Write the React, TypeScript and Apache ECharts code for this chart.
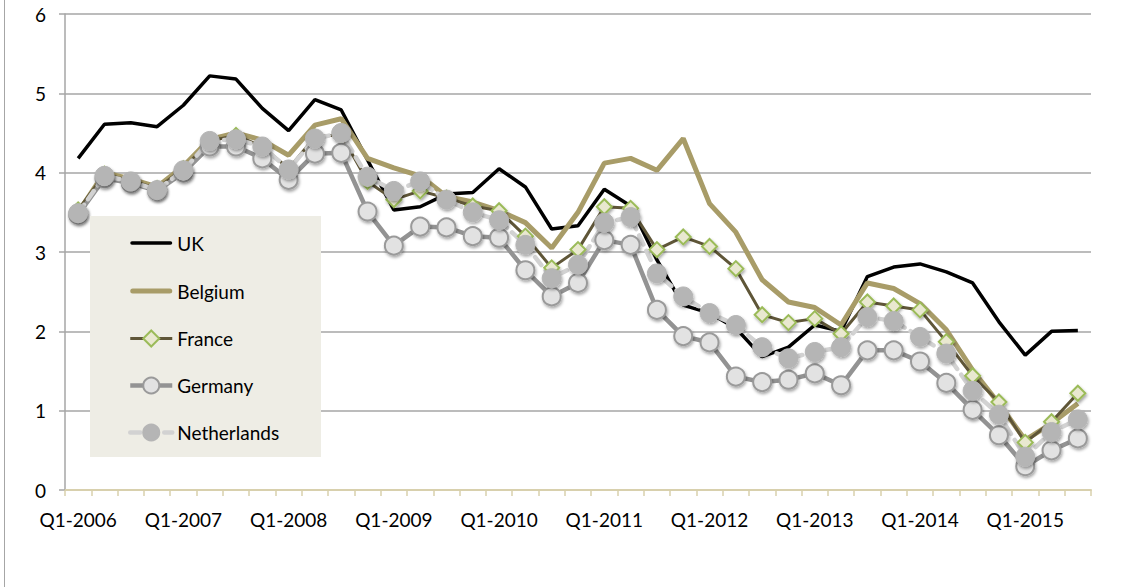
import React, { useEffect, useRef } from "react";
import * as echarts from "echarts";

const years = [2006, 2007, 2008, 2009, 2010, 2011, 2012, 2013, 2014, 2015];
const categories: string[] = [];
years.forEach((y) => {
  for (let q = 1; q <= 4; q++) {
    if (y === 2015 && q === 4) continue;
    categories.push(`Q${q}-${y}`);
  }
});

const uk = [4.18, 4.61, 4.63, 4.58, 4.85, 5.22, 5.18, 4.81, 4.53, 4.92, 4.79, 4.16, 3.53, 3.57, 3.73, 3.75, 4.05, 3.82, 3.29, 3.33, 3.79, 3.58, 2.9, 2.33, 2.23, 2.04, 1.68, 1.8, 2.08, 2.0, 2.69, 2.81, 2.85, 2.75, 2.61, 2.12, 1.7, 2.0, 2.01];
const belgium = [3.5, 4.0, 3.92, 3.82, 4.08, 4.42, 4.5, 4.41, 4.22, 4.6, 4.68, 4.18, 4.06, 3.96, 3.7, 3.63, 3.52, 3.37, 3.05, 3.5, 4.12, 4.18, 4.03, 4.43, 3.61, 3.25, 2.65, 2.37, 2.3, 2.08, 2.61, 2.54, 2.35, 2.02, 1.51, 1.09, 0.63, 0.84, 1.09];
const france = [3.53, 3.98, 3.9, 3.8, 4.05, 4.4, 4.47, 4.33, 4.05, 4.45, 4.48, 3.89, 3.66, 3.77, 3.68, 3.58, 3.52, 3.2, 2.8, 3.03, 3.57, 3.55, 3.03, 3.19, 3.07, 2.79, 2.21, 2.11, 2.16, 1.97, 2.37, 2.32, 2.27, 1.87, 1.44, 1.11, 0.6, 0.86, 1.22];
const germany = [3.47, 3.93, 3.87, 3.77, 4.0, 4.33, 4.33, 4.18, 3.91, 4.24, 4.25, 3.51, 3.08, 3.32, 3.31, 3.2, 3.18, 2.77, 2.44, 2.61, 3.15, 3.09, 2.27, 1.94, 1.86, 1.43, 1.36, 1.39, 1.47, 1.32, 1.76, 1.76, 1.62, 1.35, 1.01, 0.69, 0.3, 0.5, 0.65];
const netherlands = [3.49, 3.96, 3.89, 3.78, 4.03, 4.4, 4.42, 4.33, 4.04, 4.43, 4.5, 3.95, 3.77, 3.89, 3.66, 3.5, 3.4, 3.09, 2.67, 2.84, 3.37, 3.44, 2.73, 2.44, 2.23, 2.08, 1.8, 1.66, 1.74, 1.8, 2.18, 2.13, 1.93, 1.72, 1.25, 0.95, 0.42, 0.73, 0.89];

const FONT = "Lato";

// legend line icons (bounding box 42x20, a bar in the middle)
const ukIcon = "path://M0,0h0.05v0.05h-0.05z M1.75,8.25h38.5a1.75,1.75 0 0 1 0,3.5h-38.5a1.75,1.75 0 0 1 0,-3.5z M41.95,19.95h0.05v0.05h-0.05z";
const beIcon = "path://M0,0h0.05v0.05h-0.05z M2.5,7.5h37a2.5,2.5 0 0 1 0,5h-37a2.5,2.5 0 0 1 0,-5z M41.95,19.95h0.05v0.05h-0.05z";

export default function App() {
  const ref = useRef<HTMLDivElement>(null);
  useEffect(() => {
    if (!ref.current) return;
    const chart = echarts.init(ref.current, null, { renderer: "svg" });
    const shadow = {
      shadowBlur: 3,
      shadowColor: "rgba(0,0,0,0.35)",
      shadowOffsetX: 1,
      shadowOffsetY: 2,
    };
    chart.setOption({
      animation: false,
      backgroundColor: "#ffffff",
      textStyle: { fontFamily: FONT },
      grid: { left: 65, right: 45, top: 14, bottom: 97, containLabel: false },
      graphic: [
        {
          type: "line",
          shape: { x1: 4.5, y1: 0, x2: 4.5, y2: 587 },
          style: { stroke: "#a6a6a6", lineWidth: 1 },
          z: 0,
        },
        {
          type: "rect",
          shape: { x: 90, y: 216, width: 231, height: 241 },
          style: { fill: "#eeede5" },
          z: 5,
        },
      ],
      legend: {
        orient: "vertical",
        left: 128,
        top: 233,
        padding: 0,
        itemWidth: 42,
        itemHeight: 20,
        itemGap: 28,
        z: 10,
        lineStyle: { width: "inherit" },
        textStyle: { fontFamily: FONT, fontSize: 19, color: "#000" },
        data: [
          { name: "UK", icon: ukIcon },
          { name: "Belgium", icon: beIcon },
          "France",
          "Germany",
          "Netherlands",
        ],
      },
      xAxis: {
        type: "category",
        data: categories,
        boundaryGap: true,
        axisLine: { show: true, lineStyle: { color: "#d8d0ad", width: 2 } },
        axisTick: { show: true, interval: 0, length: 6, lineStyle: { color: "#d8d0ad", width: 1.5 } },
        axisLabel: { interval: 3, fontFamily: FONT, fontSize: 19, color: "#000", margin: 20 },
        splitLine: { show: false },
      },
      yAxis: {
        type: "value",
        min: 0,
        max: 6,
        interval: 1,
        axisLine: { show: true, lineStyle: { color: "#a6a6a6", width: 1.5 } },
        axisTick: { show: true, length: 6, lineStyle: { color: "#a6a6a6", width: 1.5 } },
        axisLabel: { fontFamily: FONT, fontSize: 19, color: "#000", margin: 19 },
        splitLine: { show: true, lineStyle: { color: "#a6a6a6", width: 1.5 } },
      },
      series: [
        {
          name: "UK",
          type: "line",
          data: uk,
          symbol: "none",
          lineStyle: { color: "#000000", width: 3.5 },
          itemStyle: { color: "#000000" },
          z: 2,
        },
        {
          name: "Belgium",
          type: "line",
          data: belgium,
          symbol: "none",
          lineStyle: { color: "#a89c68", width: 5 },
          itemStyle: { color: "#a89c68" },
          z: 2,
        },
        {
          name: "France",
          type: "line",
          data: france,
          symbol: "diamond",
          symbolSize: 15,
          showSymbol: true,
          showAllSymbol: true,
          lineStyle: { color: "#5f5638", width: 3 },
          itemStyle: { color: "#e9e8d0", borderColor: "#9bbb59", borderWidth: 2, ...shadow },
          z: 3,
        },
        {
          name: "Germany",
          type: "line",
          data: germany,
          symbol: "circle",
          symbolSize: 18,
          showSymbol: true,
          showAllSymbol: true,
          lineStyle: { color: "#939393", width: 4.5 },
          itemStyle: { color: "#e2e2e2", borderColor: "#9a9a9a", borderWidth: 2, ...shadow },
          z: 3,
        },
        {
          name: "Netherlands",
          type: "line",
          data: netherlands,
          symbol: "circle",
          symbolSize: 19,
          showSymbol: true,
          showAllSymbol: true,
          lineStyle: { color: "#d2d2d2", width: 4.5, type: [10, 7], cap: "round" },
          itemStyle: { color: "#b5b5b5", borderColor: "#b5b5b5", borderWidth: 1, ...shadow },
          z: 3,
        },
      ],
    });
    return () => chart.dispose();
  }, []);
  return (
    <div
      ref={ref}
      style={{ position: "fixed", left: 0, top: 0, width: 1136, height: 587 }}
    />
  );
}
